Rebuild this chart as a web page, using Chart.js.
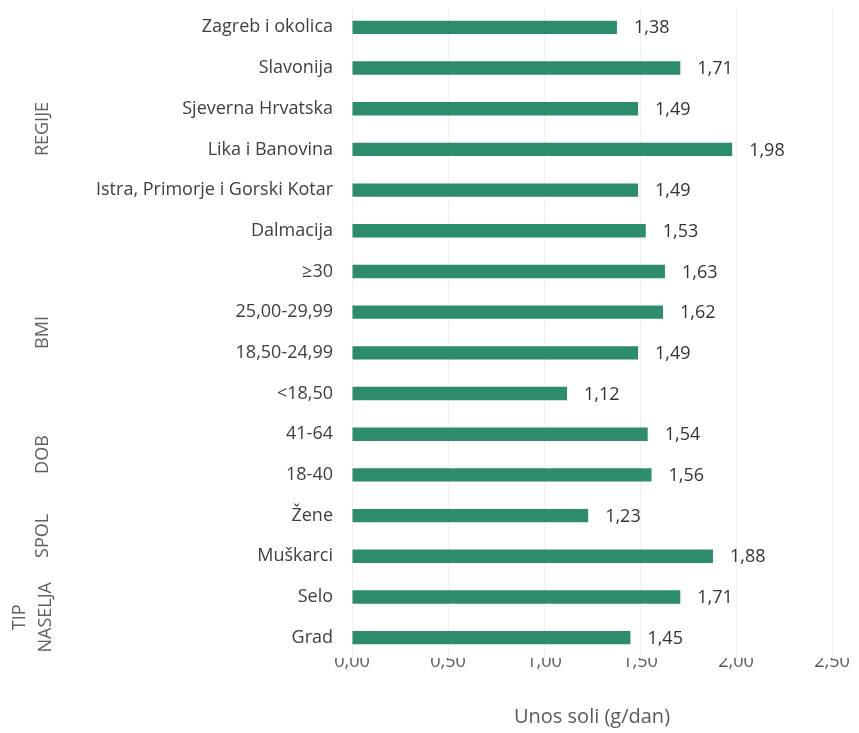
<!DOCTYPE html>
<html>
<head>
<meta charset="utf-8">
<script src="https://cdn.jsdelivr.net/npm/chart.js@4"></script>
<style>
  html, body { margin: 0; padding: 0; background: #fff; }
  #wrap { width: 859px; height: 733px; }
</style>
</head>
<body>
<div id="wrap"><canvas id="myChart" width="859" height="733"></canvas></div>
<script>
// kategorije odozgo prema dolje
const categories = ['Zagreb i okolica', 'Slavonija', 'Sjeverna Hrvatska', 'Lika i Banovina',
  'Istra, Primorje i Gorski Kotar', 'Dalmacija', '≥30', '25,00-29,99', '18,50-24,99', '<18,50',
  '41-64', '18-40', 'Žene', 'Muškarci', 'Selo', 'Grad'];
const unosSoli = [1.38, 1.71, 1.49, 1.98, 1.49, 1.53, 1.63, 1.62, 1.49, 1.12, 1.54, 1.56, 1.23, 1.88, 1.71, 1.45];
// grupe: naziv (linije), prvi i zadnji indeks
const groupNames = [['REGIJE'], ['BMI'], ['DOB'], ['SPOL'], ['TIP', 'NASELJA']];
const groupFrom = [0, 6, 10, 12, 14];
const groupTo = [5, 9, 11, 13, 15];
const xTicks = [0, 0.5, 1, 1.5, 2, 2.5];

const FONT = '"Open Sans", Lato, sans-serif';
const fmt = v => v.toFixed(2).replace('.', ',');

// vrijednosti desno od stupaca
const valueLabels = {
  id: 'valueLabels',
  afterDatasetsDraw(chart) {
    const ctx = chart.ctx;
    const meta = chart.getDatasetMeta(0);
    ctx.save();
    ctx.font = '18px ' + FONT;
    ctx.fillStyle = '#333';
    ctx.textBaseline = 'middle';
    ctx.textAlign = 'left';
    meta.data.forEach((bar, i) => {
      ctx.fillText(fmt(unosSoli[i]), bar.x + 17, bar.y + 1);
    });
    ctx.restore();
  }
};

// nazivi grupa, okomito
const groupLabels = {
  id: 'groupLabels',
  afterDraw(chart) {
    const ctx = chart.ctx;
    const y = chart.scales.y;
    ctx.save();
    ctx.font = '18px ' + FONT;
    ctx.fillStyle = '#606060';
    ctx.textAlign = 'center';
    ctx.textBaseline = 'middle';
    groupNames.forEach((lines, g) => {
      const mid = (y.getPixelForValue(groupFrom[g]) + y.getPixelForValue(groupTo[g])) / 2;
      lines.forEach((txt, k) => {
        const x = (lines.length > 1 ? 46 : 43) - (lines.length - 1 - k) * 26;
        ctx.save();
        ctx.translate(x, mid);
        ctx.rotate(-Math.PI / 2);
        ctx.fillText(txt, 0, 0);
        ctx.restore();
      });
    });
    ctx.restore();
  }
};

new Chart(document.getElementById('myChart'), {
  type: 'bar',
  data: {
    labels: categories,
    datasets: [{
      data: unosSoli,
      backgroundColor: '#2d8b6e',
      borderWidth: 0,
      categoryPercentage: 1,
      barPercentage: 0.33
    }]
  },
  options: {
    indexAxis: 'y',
    responsive: false,
    animation: false,
    layout: { padding: { top: 7, right: 27, left: 0, bottom: 0 } },
    plugins: { legend: { display: false }, tooltip: { enabled: false } },
    scales: {
      x: {
        min: 0,
        max: 2.5,
        afterBuildTicks(scale) { scale.ticks = xTicks.map(v => ({ value: v })); },
        afterFit(scale) { scale.height = 75; },
        ticks: {
          callback: v => fmt(v),
          font: { size: 18, family: FONT },
          color: '#595959',
          padding: -7
        },
        grid: { color: '#f0f0f0', drawTicks: false },
        border: { display: false },
        title: {
          display: true,
          text: 'Unos soli (g/dan)',
          font: { size: 20, family: FONT },
          color: '#595959',
          padding: { top: 9 }
        }
      },
      y: {
        afterFit(scale) {
          scale.width = 352;
          scale.paddingTop = 0;
          scale.paddingBottom = 0;
        },
        ticks: {
          font: { size: 18, family: FONT },
          color: '#404040',
          padding: 19
        },
        grid: { display: false, drawTicks: false },
        border: { display: false }
      }
    }
  },
  plugins: [valueLabels, groupLabels]
});
</script>
</body>
</html>
